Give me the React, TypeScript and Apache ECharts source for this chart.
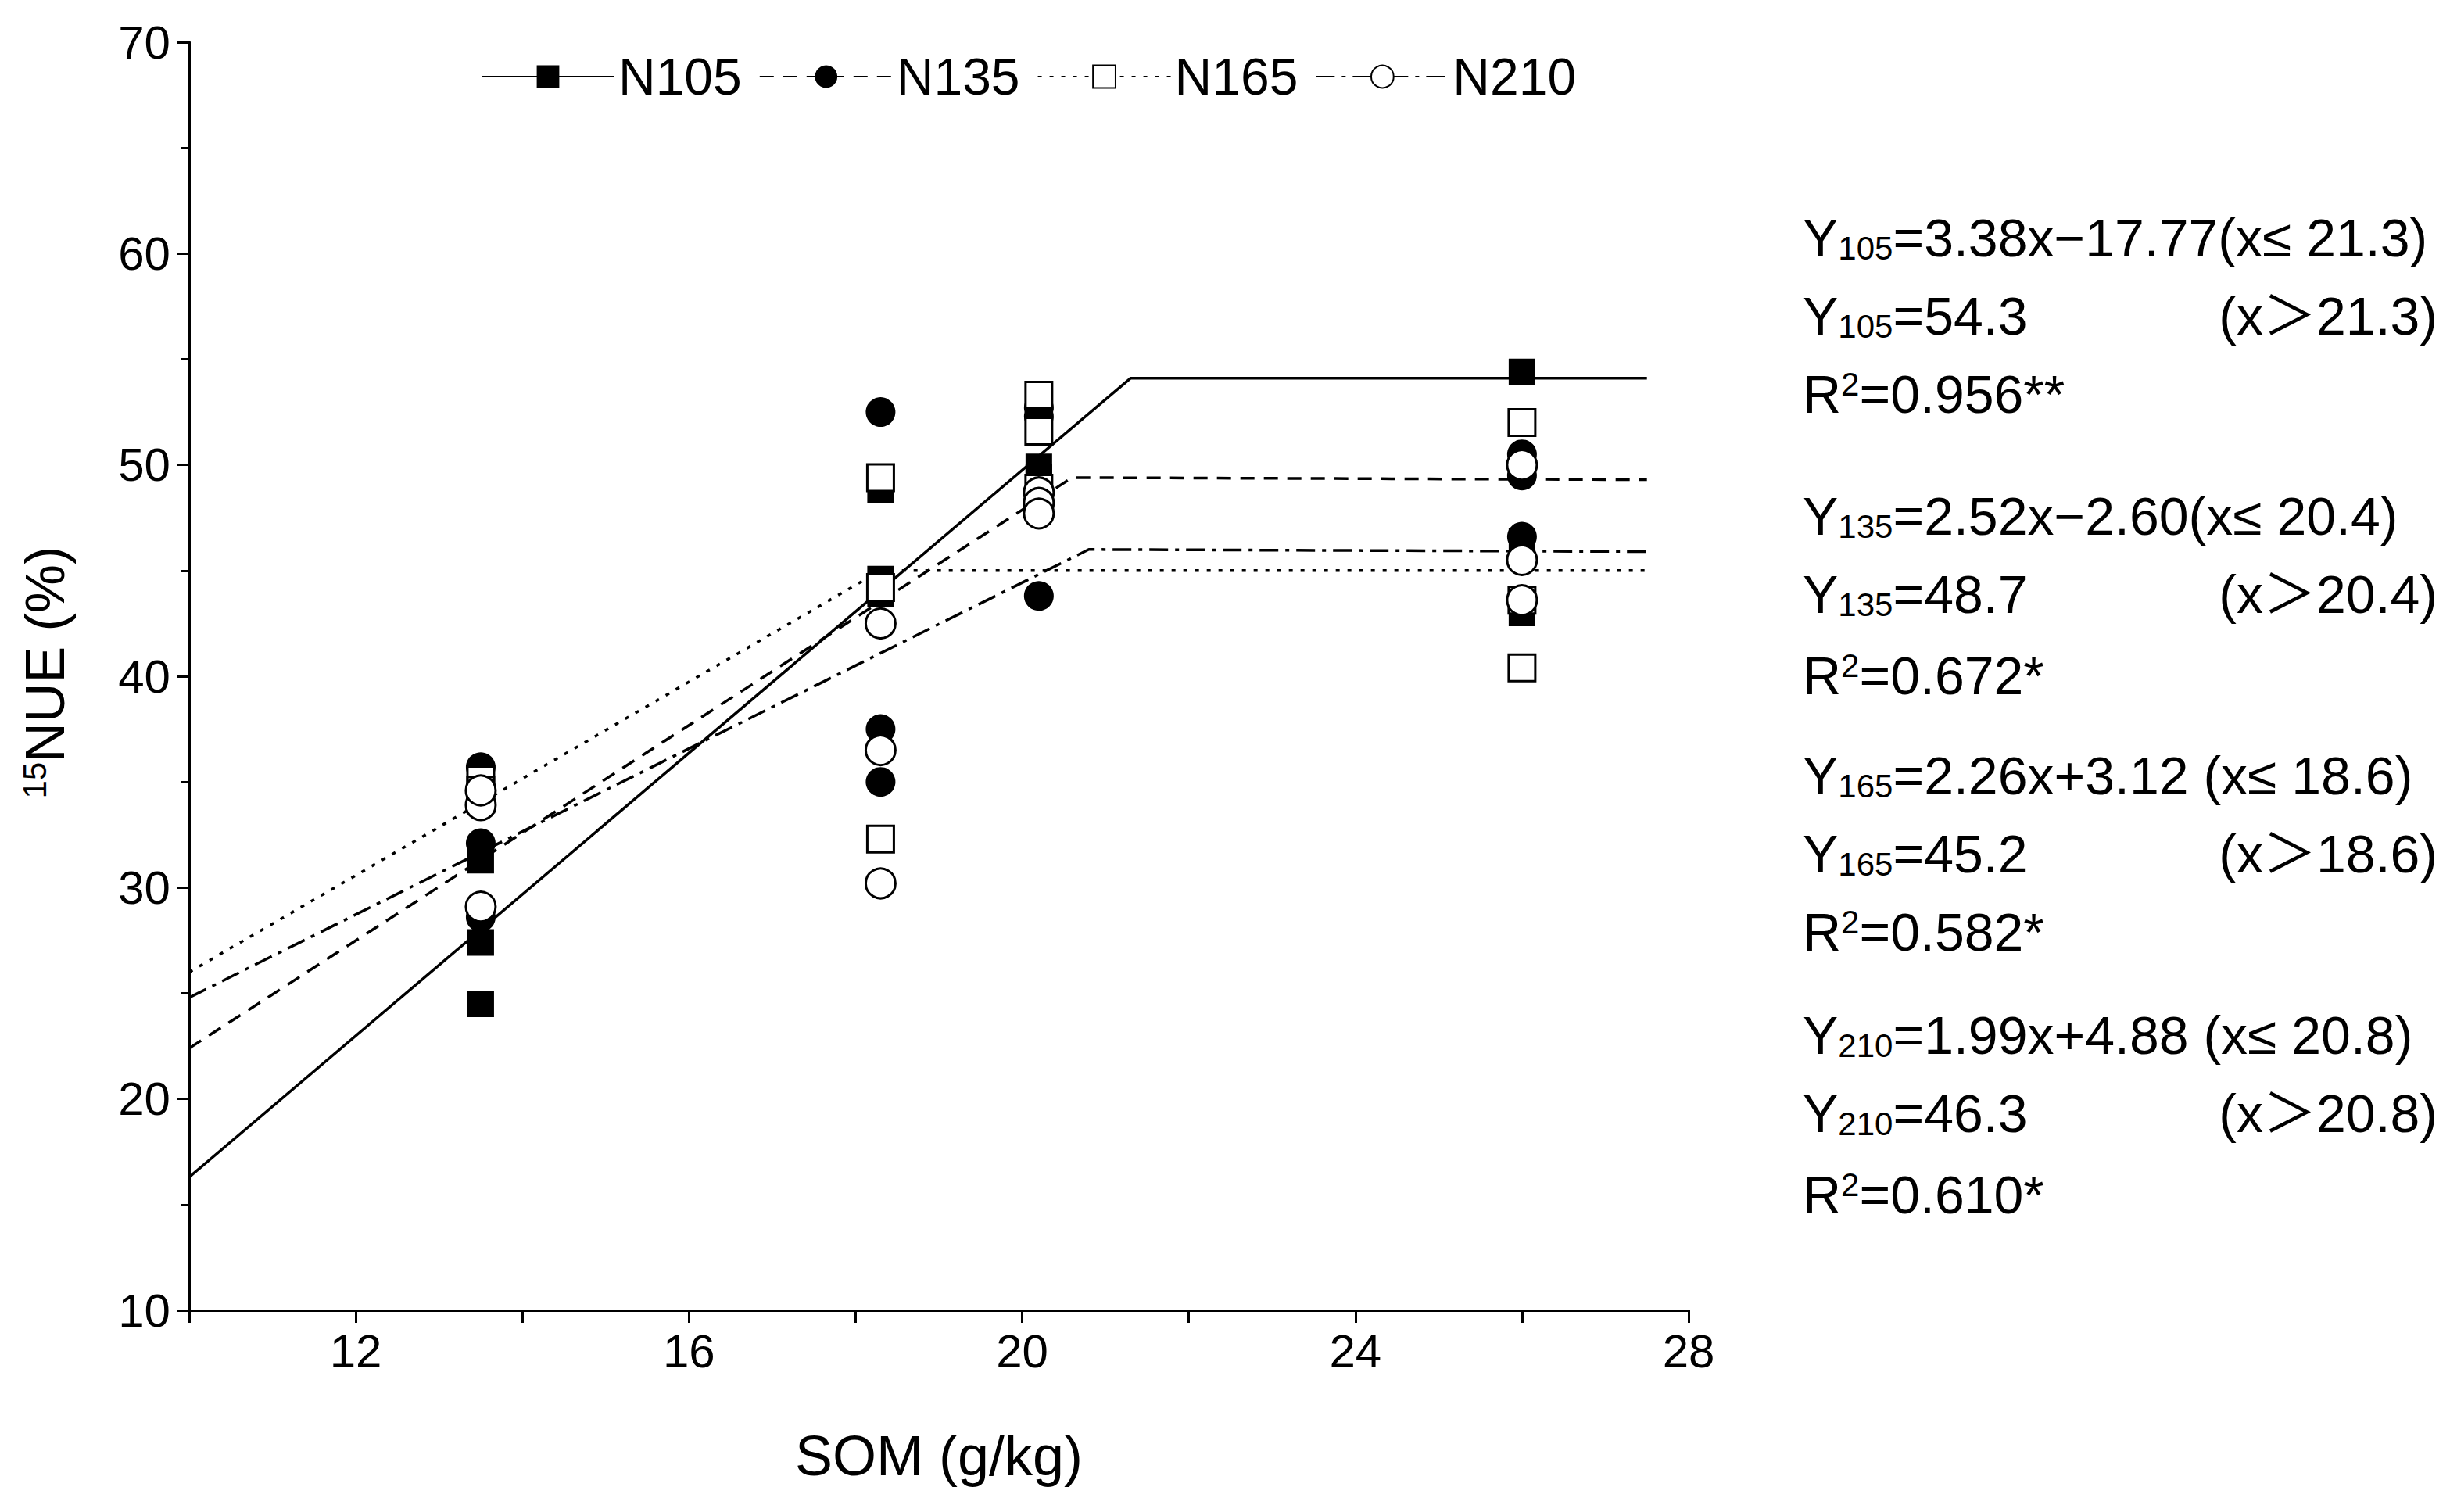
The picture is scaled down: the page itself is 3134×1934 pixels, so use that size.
import React, { useEffect, useRef } from "react";
import * as echarts from "echarts";

const names = ["N105", "N135", "N165", "N210"];
const symbols = ["rect", "circle", "rect", "circle"];
const filled = [true, true, false, false];
const dashes: any[] = ["solid", [18, 12], [5, 10], [24, 9, 5, 9]];
const somLevels = [13.5, 18.3, 20.2, 26.0];
const obsN105 = [[31.3, 27.4, 24.5], [48.8, 44.6, 43.9], [49.9, 49.4, 48.9], [54.4, 46.4, 43.0]];
const obsN135 = [[35.7, 32.1, 28.6], [52.5, 37.5, 35.0], [52.7, 52.3, 43.8], [50.5, 49.5, 46.6]];
const obsN165 = [[35.1, 34.6, 34.2], [49.4, 44.2, 32.3], [53.3, 51.6, 48.9], [52.0, 43.6, 40.4]];
const obsN210 = [[33.9, 29.1, 34.6], [42.5, 36.5, 30.2], [48.7, 48.2, 47.7], [50.0, 45.5, 43.6]];
const fitN105 = [[10, 16.3], [21.3, 54.1], [27.5, 54.1]];
const fitN135 = [[10, 22.4], [20.6, 49.4], [27.5, 49.3]];
const fitN165 = [[10, 26.0], [18.3, 45.0], [27.5, 45.0]];
const fitN210 = [[10, 24.8], [20.8, 46.0], [27.5, 45.9]];
const xLabels = [12, 16, 20, 24, 28];
const eqLines = [
  ["Y{s|105}=3.38x\u221217.77(x\u2264 21.3)", ""],
  ["Y{s|105}=54.3", "(x\uFF1E21.3)"],
  ["R{p|2}=0.956**", ""],
  ["Y{s|135}=2.52x\u22122.60(x\u2264 20.4)", ""],
  ["Y{s|135}=48.7", "(x\uFF1E20.4)"],
  ["R{p|2}=0.672*", ""],
  ["Y{s|165}=2.26x+3.12 (x\u2264 18.6)", ""],
  ["Y{s|165}=45.2", "(x\uFF1E18.6)"],
  ["R{p|2}=0.582*", ""],
  ["Y{s|210}=1.99x+4.88 (x\u2264 20.8)", ""],
  ["Y{s|210}=46.3", "(x\uFF1E20.8)"],
  ["R{p|2}=0.610*", ""],
];
const eqY = [304, 404, 504, 660, 760, 864, 992, 1092, 1192, 1324, 1424, 1528];

export default function App() {
  const ref = useRef<HTMLDivElement>(null);
  useEffect(() => {
    document.body.style.margin = "0";
    const chart = echarts.init(ref.current!, null, { renderer: "svg" });
    const obs = [obsN105, obsN135, obsN165, obsN210];
    const fits = [fitN105, fitN135, fitN165, fitN210];
    const font = "Liberation Sans, Arial, sans-serif";
    const rich = {
      s: { fontSize: 42, fontFamily: font, verticalAlign: "bottom", padding: [26, 0, 0, 0], color: "#000" },
      p: { fontSize: 42, fontFamily: font, verticalAlign: "top", padding: [0, 0, 26, 0], color: "#000" },
    };
    const series: any[] = [];
    names.forEach((n, i) => {
      const item = filled[i]
        ? { color: "#000", opacity: 1 }
        : { color: "#fff", borderColor: "#000", borderWidth: 3, opacity: 1 };
      series.push({
        name: n, type: "line", data: fits[i], symbol: symbols[i], symbolSize: 38, showSymbol: false,
        lineStyle: { color: "#000", width: 3.5, type: dashes[i] }, itemStyle: item, z: 2,
      });
    });
    names.forEach((n, i) => {
      const item = filled[i]
        ? { color: "#000", opacity: 1 }
        : { color: "#fff", borderColor: "#000", borderWidth: 3, opacity: 1 };
      const data: number[][] = [];
      somLevels.forEach((x, k) => obs[i][k].forEach((v) => data.push([x, v])));
      series.push({ name: n, type: "scatter", data, symbol: symbols[i], symbolSize: symbols[i] === "rect" ? 34 : 38, itemStyle: item, z: 3 });
    });
    const graphic: any[] = [
      {
        type: "text", x: 58, y: 860, rotation: Math.PI / 2,
        style: { text: "{p|15}NUE (%)", font: `70px ${font}`, fill: "#000", align: "center", verticalAlign: "middle", rich },
      },
    ];
    eqLines.forEach((l, i) => {
      graphic.push({ type: "text", x: 2306, y: eqY[i], style: { text: l[0], font: `68px ${font}`, fill: "#000", verticalAlign: "middle", rich } });
      if (l[1]) graphic.push({ type: "text", x: 3118, y: eqY[i], style: { text: l[1], font: `68px Liberation Sans, Noto Sans CJK SC, sans-serif`, fill: "#000", align: "right", verticalAlign: "middle" } });
    });
    chart.setOption({
      animation: false,
      textStyle: { fontFamily: font },
      grid: { left: 242, right: 974, top: 54, bottom: 258 },
      legend: {
        data: names, top: 60, left: 610, itemWidth: 170, itemHeight: 36, itemGap: 22,
        textStyle: { fontSize: 66, color: "#000", fontFamily: font },
      },
      xAxis: {
        type: "value", min: 10, max: 28, interval: 2,
        axisLine: { lineStyle: { color: "#000", width: 3 } },
        axisTick: { inside: false, length: 16, lineStyle: { color: "#000", width: 3 } },
        axisLabel: { fontSize: 60, color: "#000", margin: 22, formatter: (v: number) => (xLabels.includes(v) ? String(v) : "") },
        splitLine: { show: false },
        name: "SOM (g/kg)", nameLocation: "middle", nameGap: 150, nameTextStyle: { fontSize: 72, color: "#000" },
      },
      yAxis: {
        type: "value", min: 10, max: 70, interval: 10,
        axisLine: { show: true, lineStyle: { color: "#000", width: 3 } },
        axisTick: { show: true, length: 16, lineStyle: { color: "#000", width: 3 } },
        minorTick: { show: true, splitNumber: 2, length: 10, lineStyle: { color: "#000", width: 3 } },
        axisLabel: { fontSize: 60, color: "#000", margin: 24 },
        splitLine: { show: false },
      },
      series,
      graphic,
    });
    return () => chart.dispose();
  }, []);
  return <div ref={ref} style={{ width: 3134, height: 1934, background: "#fff" }} />;
}
